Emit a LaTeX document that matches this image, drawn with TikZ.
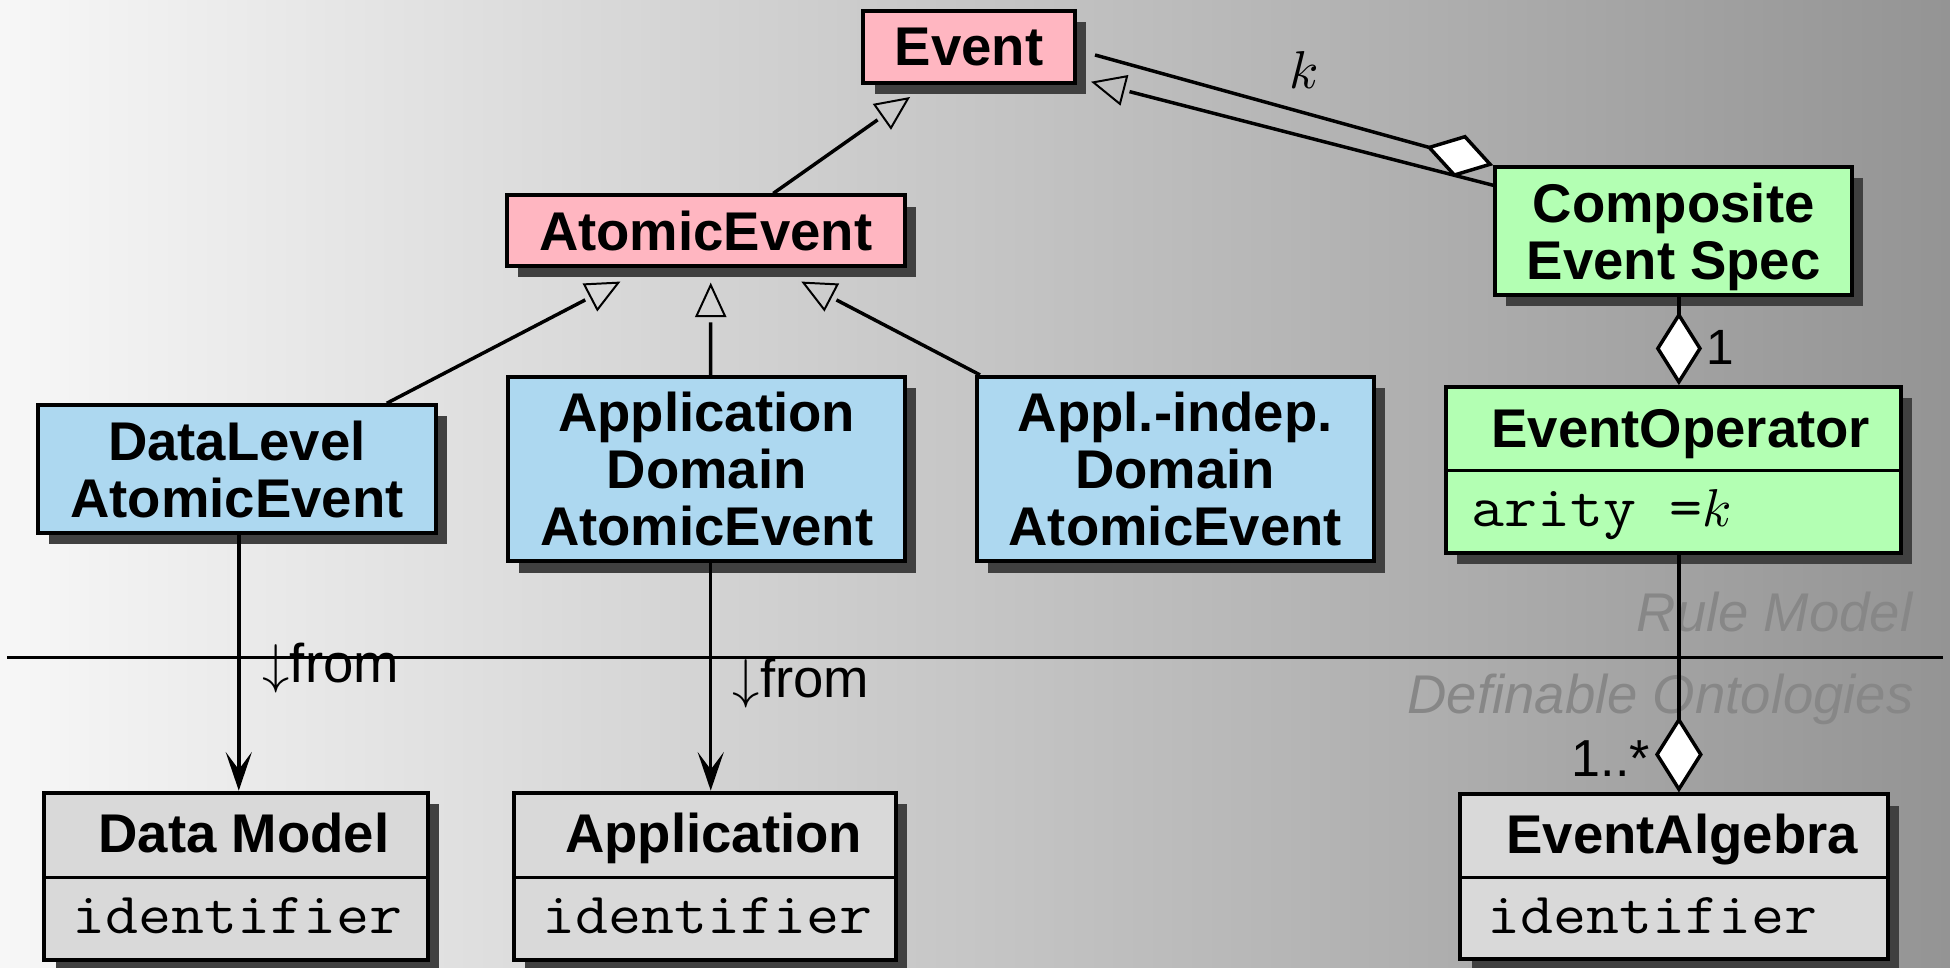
\documentclass[tikz,border=0pt]{standalone}
\usepackage{fontspec}
\setmainfont{Liberation Sans}
\usetikzlibrary{arrows.meta,calc,shadows}

% make the math letter and symbol fonts freely scalable
\DeclareFontShape{OML}{cmm}{m}{it}{<->cmmi10}{\skewchar\font'177}
\DeclareFontShape{OMS}{cmsy}{m}{n}{<->cmsy10}{\skewchar\font'60}

\definecolor{bgleft}{RGB}{247,247,247}
\definecolor{bgright}{RGB}{148,148,148}
\definecolor{pinkfill}{RGB}{255,182,193}
\definecolor{bluefill}{RGB}{173,216,240}
\definecolor{greenfill}{RGB}{179,255,179}
\definecolor{grayfill}{RGB}{217,217,217}
\definecolor{shadowc}{RGB}{64,64,64}
\definecolor{paneltext}{RGB}{135,135,135}

% generalization: thick line, small gap, then a thin open triangle whose apex is #2
\newcommand\genlink[2]{%
  \draw[conn] (#1) -- ($(#2)!30bp!(#1)$);
  \coordinate (gbase) at ($(#2)!25bp!(#1)$);
  \draw[gentri] (#2) -- ($(gbase)!11.5bp!90:(#2)$) -- ($(gbase)!11.5bp!-90:(#2)$) -- cycle;
}
% attribute text: typewriter, slightly widened
\newcommand\attrtext[1]{\scalebox{1.1}[1]{#1}}

\begin{document}
\begin{tikzpicture}[x=1bp,y=-1bp,
  box/.style={draw=black, line width=3.2bp, inner sep=0pt, align=center, text depth=0pt,
    font=\fontsize{44}{46}\selectfont\bfseries,
    drop shadow={shadow xshift=9bp, shadow yshift=-9bp, fill=shadowc, opacity=1}},
  title/.style={anchor=base, inner sep=0pt, font=\fontsize{44}{46}\selectfont\bfseries},
  attr/.style={anchor=base west, inner sep=0pt, font=\fontsize{47}{49}\selectfont\ttfamily},
  divider/.style={line width=2.2bp},
  conn/.style={line width=2.8bp},
  gentri/.style={line width=1.6bp, line join=miter},
  agg/.style={conn, -{Diamond[fill=white, length=#1, width=0.63*#1]}},
  dep/.style={conn, -{Stealth[length=31bp, width=21bp, inset=14bp]}},
  panel/.style={anchor=base east, inner sep=0pt, text=paneltext,
    font=\fontsize{44}{46}\selectfont\itshape},
  mult/.style={inner sep=0pt, font=\fontsize{42}{44}\selectfont},
  lbl/.style={anchor=base west, inner sep=0pt, font=\fontsize{44}{46}\selectfont}]

% background
\clip (0,0) rectangle (1568,778);
\shade[left color=bgleft, right color=bgright] (0,0) rectangle (1568,778);

% separator between the two layers
\draw[line width=1.8bp] (6,528.6) -- (1562,528.6);
\node[panel] (rulemodel) at (1538,508) {Rule Model};
\node[panel] (ontologies) at (1539,573.7) {Definable Ontologies};

% classes
\node[box, fill=pinkfill, minimum width=170bp, minimum height=58bp] (ev) at (779.3,37.5) {Event};
\node[box, fill=pinkfill, minimum width=320bp, minimum height=57bp] (atom) at (567.5,185.6) {AtomicEvent};
\node[box, fill=greenfill, minimum width=287bp, minimum height=103bp] (comp) at (1345.8,185.9) {Composite\\Event Spec};
\node[box, fill=bluefill, minimum width=319.5bp, minimum height=102.7bp] (dlev) at (190.5,377.2) {DataLevel\\AtomicEvent};
\node[box, fill=bluefill, minimum width=319.4bp, minimum height=148.3bp] (appd) at (568.2,377.2) {Application\\Domain\\AtomicEvent};
\node[box, fill=bluefill, minimum width=319bp, minimum height=148.3bp] (appi) at (945,377.2) {Appl.-indep.\\Domain\\AtomicEvent};

% classes with an attribute compartment
\node[box, fill=greenfill, minimum width=365.5bp, minimum height=133.5bp] (evop) at (1345.45,378.05) {};
\draw[divider] (evop.west |- 0,378.5) -- (evop.east |- 0,378.5);
\node[title] (evopt) at (1351.5,359.8) {EventOperator};
\node[attr] (evopa) at (1183,423.6) {\attrtext{arity =}\fontsize{43}{45}\selectfont$k$};

\node[box, fill=grayfill, minimum width=308.7bp, minimum height=134.3bp] (dmod) at (190,704.5) {};
\draw[divider] (dmod.west |- 0,705.5) -- (dmod.east |- 0,705.5);
\node[title] (dmodt) at (196.1,685.6) {Data Model};
\node[attr] (dmoda) at (58,750.5) {\attrtext{identifier}};

\node[box, fill=grayfill, minimum width=307.2bp, minimum height=134.3bp] (appl) at (567,704.5) {};
\draw[divider] (appl.west |- 0,705.5) -- (appl.east |- 0,705.5);
\node[title] (applt) at (573.8,685.6) {Application};
\node[attr] (appla) at (436,750.5) {\attrtext{identifier}};

\node[box, fill=grayfill, minimum width=343.5bp, minimum height=132.2bp] (evalg) at (1346,704.9) {};
\draw[divider] (evalg.west |- 0,705.6) -- (evalg.east |- 0,705.6);
\node[title] (evalgt) at (1352.6,686.3) {EventAlgebra};
\node[attr] (evalga) at (1196,750.6) {\attrtext{identifier}};

% connector end points
\coordinate (g1s) at ([xshift=54.3bp]atom.north);
\coordinate (g1a) at (730.2,79.1);
\coordinate (g2s) at ([xshift=120.5bp]dlev.north);
\coordinate (g2a) at (497.2,227.3);
\coordinate (g3s) at ([xshift=3.3bp]appd.north);
\coordinate (g3a) at (571.5,229.2);
\coordinate (g4s) at ([xshift=-157bp]appi.north);
\coordinate (g4a) at (646,227.3);
\coordinate (g5s) at ([yshift=36.9bp]comp.west);
\coordinate (g5a) at (879.2,66.2);
\coordinate (aggs) at (880.5,44.2);
\coordinate (xop) at (1350,0);
\coordinate (xdl) at (192,0);
\coordinate (xad) at (571.5,0);

% generalizations
\genlink{g1s}{g1a}
\genlink{g2s}{g2a}
\genlink{g3s}{g3a}
\genlink{g4s}{g4a}
\genlink{g5s}{g5a}

% aggregations
\draw[agg=56bp] (aggs) -- (comp.north west);
\node[inner sep=0pt, font=\fontsize{43}{45}\selectfont] (klabel) at (1049,56) {$k$};
\draw[agg=59bp] (comp.south -| xop) -- (evop.north -| xop);
\node[mult, anchor=base west, font=\fontsize{40}{42}\selectfont] (one) at (1372,293) {1};
\draw[agg=61bp] (evop.south -| xop) -- (evalg.north -| xop);
\node[mult, anchor=base east] (many) at (1327,624.5) {1..*};

% dependencies
\draw[dep] (dlev.south -| xdl) -- (dmod.north -| xdl);
\node[lbl] (from1) at (211,549) {$\downarrow$from};
\draw[dep] (appd.south -| xad) -- (appl.north -| xad);
\node[lbl] (from2) at (589,560.5) {$\downarrow$from};

\end{tikzpicture}
\end{document}
